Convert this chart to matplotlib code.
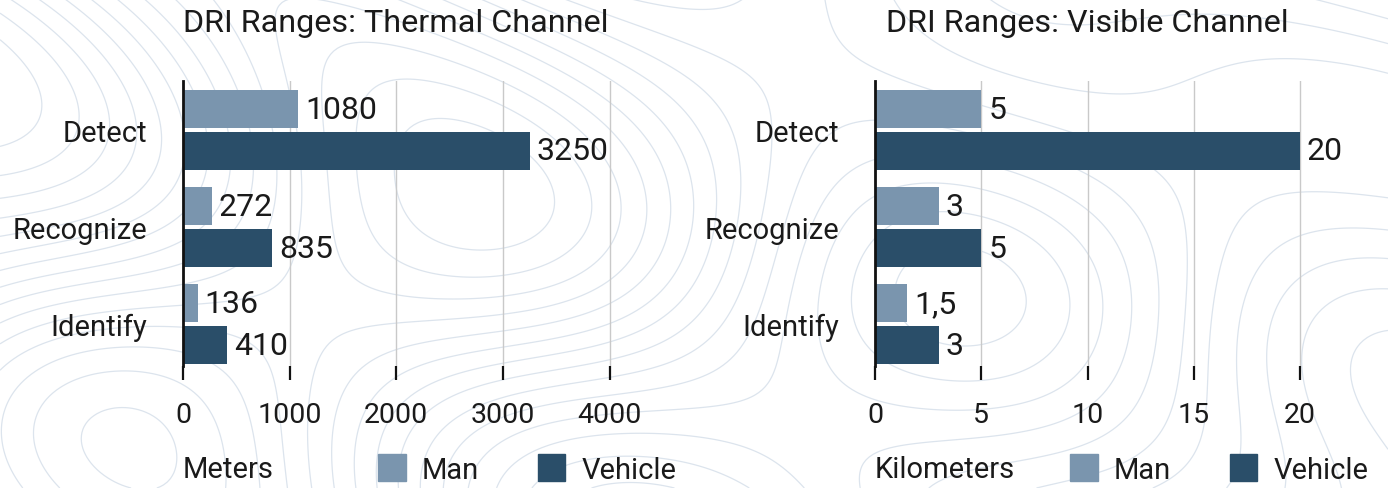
import matplotlib.pyplot as plt
from matplotlib.patches import Patch
import numpy as np

# data
categories = ["Detect", "Recognize", "Identify"]
thermal_man = [1080, 272, 136]
thermal_vehicle = [3250, 835, 410]
visible_man = [5, 3, 1.5]
visible_vehicle = [20, 5, 3]
thermal_ticks = [0, 1000, 2000, 3000, 4000]
visible_ticks = [0, 5, 10, 15, 20]

MAN = "#7a95ae"
VEHICLE = "#2a4e69"
GRID = "#c9c9c9"
TEXT = "#1a1a1a"
TOPO = "#dce4ed"

plt.rcParams["font.family"] = ["Roboto", "DejaVu Sans"]

W, H = 1388, 489
fig = plt.figure(figsize=(W / 100, H / 100), dpi=100)
fig.patch.set_facecolor("white")

# faint topographic background
bg = fig.add_axes([0, 0, 1, 1], zorder=-10)
gx, gy = np.meshgrid(np.linspace(0, 14, 400), np.linspace(0, 5, 160))
field = (np.sin(gx * 0.55 + 0.8 * np.cos(gy * 0.9)) + 0.6 * np.cos(gy * 0.7 - gx * 0.35)
         + 0.5 * np.sin(gx * 0.9 + gy * 1.1))
bg.contour(gx, gy, field, levels=15, colors=TOPO, linewidths=0.9, linestyles="solid")
bg.set_axis_off()


def fmt(v):
    s = f"{v:g}"
    return s.replace(".", ",")


def draw(rect, man, vehicle, ticks, xmax, title, title_x, unit):
    ax = fig.add_axes(rect)
    ax.patch.set_alpha(0)
    y = np.arange(len(categories))
    off, h = 0.215, 0.39
    b1 = ax.barh(y - off, man, height=h, color=MAN, zorder=3)
    b2 = ax.barh(y + off, vehicle, height=h, color=VEHICLE, zorder=3)
    ax.bar_label(b1, labels=[fmt(v) for v in man], padding=5, fontsize=23, color=TEXT)
    ax.bar_label(b2, labels=[fmt(v) for v in vehicle], padding=5, fontsize=23, color=TEXT)
    ax.set_ylim(2.43, -0.505)
    ax.set_xlim(0, xmax)
    ax.set_yticks(y)
    ax.set_yticklabels(categories, fontsize=21, color=TEXT)
    ax.tick_params(axis="y", length=0, pad=26)
    ax.set_xticks(ticks)
    ax.set_xticklabels([str(t) for t in ticks], fontsize=20.5, color=TEXT)
    ax.tick_params(axis="x", direction="out", length=10, width=1.6, color="#111111", pad=15)
    ax.grid(True, axis="x", color=GRID, linewidth=1, zorder=0)
    for s in ["top", "right", "bottom"]:
        ax.spines[s].set_visible(False)
    ax.spines["left"].set_linewidth(2)
    ax.spines["left"].set_color("#111111")
    ax.spines["left"].set_zorder(4)
    fig.text(title_x, 1 - 23 / H, title, fontsize=23.3, color=TEXT, ha="left", va="center")
    fig.text(rect[0], 1 - 470 / H, unit, fontsize=21, color=TEXT, ha="left", va="center")
    return ax


ax1 = draw([183 / W, 0.2495, 480 / W, 0.5828], thermal_man, thermal_vehicle,
           thermal_ticks, 4500, "DRI Ranges: Thermal Channel", 183 / W, "Meters")
ax2 = draw([875 / W, 0.2495, 510 / W, 0.5828], visible_man, visible_vehicle,
           visible_ticks, 24, "DRI Ranges: Visible Channel", 886 / W, "Kilometers")

handles = [Patch(color=MAN, label="Man"), Patch(color=VEHICLE, label="Vehicle")]
for lx in [375 / W, 1067 / W]:
    fig.legend(handles=handles, ncol=2, loc="center left", bbox_to_anchor=(lx - 0.006, 1 - 470 / H),
               frameon=False, fontsize=21, handlelength=0.95, handleheight=1.05,
               handletextpad=0.55, columnspacing=2.0, borderaxespad=0, labelcolor=TEXT)

fig.savefig("out.png", dpi=100, facecolor="white")
